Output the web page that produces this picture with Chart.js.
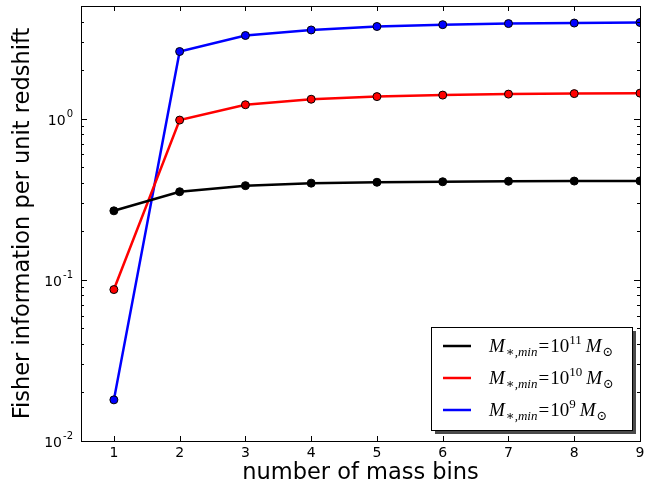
<!DOCTYPE html>
<html>
<head>
<meta charset="utf-8">
<script src="https://cdn.jsdelivr.net/npm/chart.js@4.4.0/dist/chart.umd.min.js"></script>
<style>
html, body { margin: 0; padding: 0; background: #fff; }
#wrap { width: 645px; height: 487px; position: relative; }
</style>
</head>
<body>
<div id="wrap"><canvas id="chart"></canvas></div>
<script>
// donnees
const massBins = [1, 2, 3, 4, 5, 6, 7, 8, 9];
const fisherMin11 = [0.268, 0.352, 0.384, 0.398, 0.403, 0.406, 0.409, 0.410, 0.411];
const fisherMin10 = [0.087, 0.98, 1.22, 1.32, 1.37, 1.40, 1.42, 1.43, 1.44];
const fisherMin9 = [0.018, 2.61, 3.28, 3.55, 3.73, 3.83, 3.89, 3.92, 3.95];
const seriesExponents = ['11', '10', '9'];
const seriesColors = ['#000000', '#ff0000', '#0000ff'];
const xTicks = [1, 2, 3, 4, 5, 6, 7, 8, 9];
const yDecades = [0.01, 0.1, 1];
const yDecadeExponents = ['-2', '-1', '0'];

const Y_MIN = 0.01, Y_MAX = 5;
const TICK_FONT = '"DejaVu Sans", sans-serif';

function toPoints(values) {
    return massBins.map((m, i) => ({ x: m, y: values[i] }));
}

function makeDataset(values, idx) {
    return {
        label: seriesExponents[idx],
        data: toPoints(values),
        borderColor: seriesColors[idx],
        backgroundColor: seriesColors[idx],
        pointBackgroundColor: seriesColors[idx],
        pointBorderColor: '#000',
        pointBorderWidth: 1,
        pointRadius: 4,
        borderWidth: 2.5,
        tension: 0,
        fill: false
    };
}

// graduations du log : 1..9 par decade
function buildLogTicks() {
    const ticks = [];
    yDecades.forEach(d => {
        for (let k = 1; k <= 9; k++) {
            const v = +(k * d).toPrecision(3);
            if (v <= Y_MAX) ticks.push({ value: v, major: k === 1 });
        }
    });
    return ticks;
}

// texte "mathematique" de la legende
function drawRich(ctx, x, y, segs) {
    let cx = x;
    segs.forEach(s => {
        ctx.font = (s.italic ? 'italic ' : '') + s.size + 'px "Liberation Serif", "DejaVu Serif", serif';
        ctx.fillText(s.t, cx, y + (s.dy || 0));
        cx += ctx.measureText(s.t).width + (s.gap || 0);
    });
}

const framePlugin = {
    id: 'frame',
    afterDatasetsDraw(chart) {
        const ctx = chart.ctx;
        const a = chart.chartArea;
        const xs = chart.scales.x, ys = chart.scales.y;
        ctx.save();
        ctx.strokeStyle = '#000';
        ctx.lineWidth = 1;
        ctx.beginPath();
        // ticks x haut et bas
        xTicks.forEach(v => {
            const px = Math.round(xs.getPixelForValue(v)) + 0.5;
            ctx.moveTo(px, a.bottom); ctx.lineTo(px, a.bottom - 5);
            ctx.moveTo(px, a.top); ctx.lineTo(px, a.top + 5);
        });
        // ticks y gauche et droite
        buildLogTicks().forEach(t => {
            const py = Math.round(ys.getPixelForValue(t.value)) + 0.5;
            const len = t.major ? 6 : 3;
            ctx.moveTo(a.left, py); ctx.lineTo(a.left + len, py);
            ctx.moveTo(a.right, py); ctx.lineTo(a.right - len, py);
        });
        ctx.stroke();
        ctx.strokeRect(Math.round(a.left) + 0.5, Math.round(a.top) + 0.5,
            Math.round(a.right - a.left), Math.round(a.bottom - a.top));

        // etiquettes des graduations
        ctx.fillStyle = '#000';
        ctx.textBaseline = 'alphabetic';
        ctx.textAlign = 'center';
        ctx.font = '14px ' + TICK_FONT;
        xTicks.forEach(v => {
            ctx.fillText(String(v), xs.getPixelForValue(v), 457);
        });
        ctx.textAlign = 'left';
        yDecades.forEach((d, i) => {
            const py = ys.getPixelForValue(d);
            ctx.font = '10px ' + TICK_FONT;
            const supW = ctx.measureText(yDecadeExponents[i]).width;
            ctx.font = '14px ' + TICK_FONT;
            const baseW = ctx.measureText('10').width;
            const x0 = 72 - supW - baseW;
            ctx.fillText('10', x0, py + 6);
            ctx.font = '10px ' + TICK_FONT;
            ctx.fillText(yDecadeExponents[i], x0 + baseW + 1, py - 2);
        });
        ctx.restore();
    },
    afterDraw(chart) {
        const ctx = chart.ctx;
        const a = chart.chartArea;
        ctx.save();
        // titres des axes
        ctx.fillStyle = '#000';
        ctx.font = '22.5px "DejaVu Sans", sans-serif';
        ctx.textAlign = 'center';
        ctx.textBaseline = 'middle';
        ctx.fillText('number of mass bins', (a.left + a.right) / 2, 473);
        ctx.translate(23, (a.top + a.bottom) / 2);
        ctx.rotate(-Math.PI / 2);
        ctx.fillText('Fisher information per unit redshift', 0, 0);
        ctx.restore();

        // legende
        ctx.save();
        const bx = 431, by = 327, bw = 201, bh = 103;
        ctx.fillStyle = '#4a4a4a';
        ctx.fillRect(bx + 4, by + 4, bw, bh);
        ctx.fillStyle = '#fff';
        ctx.fillRect(bx, by, bw, bh);
        ctx.strokeStyle = '#000';
        ctx.lineWidth = 1;
        ctx.strokeRect(bx + 0.5, by + 0.5, bw, bh);
        ctx.textAlign = 'left';
        ctx.textBaseline = 'alphabetic';
        seriesExponents.forEach((exp, i) => {
            const cy = 346 + i * 32;
            ctx.strokeStyle = seriesColors[i];
            ctx.lineWidth = 2.5;
            ctx.beginPath();
            ctx.moveTo(443, cy); ctx.lineTo(471, cy);
            ctx.stroke();
            ctx.fillStyle = '#000';
            drawRich(ctx, 489, cy + 6, [
                { t: 'M', size: 19, italic: true, gap: 1 },
                { t: '\u2217,min', size: 13, italic: true, dy: 4, gap: 1 },
                { t: '=', size: 19, gap: 1 },
                { t: '10', size: 19 },
                { t: exp, size: 13, dy: -8, gap: 4 },
                { t: 'M', size: 19, italic: true, gap: 1 },
                { t: '\u2299', size: 13, dy: 4 }
            ]);
        });
        ctx.restore();
    }
};

const ctx = document.getElementById('chart').getContext('2d');
new Chart(ctx, {
    type: 'line',
    data: {
        datasets: [
            makeDataset(fisherMin11, 0),
            makeDataset(fisherMin10, 1),
            makeDataset(fisherMin9, 2)
        ]
    },
    options: {
        responsive: true,
        maintainAspectRatio: false,
        animation: false,
        layout: { padding: { top: 6, right: 2, left: 0, bottom: 0 } },
        plugins: {
            legend: { display: false },
            tooltip: { enabled: false }
        },
        scales: {
            x: {
                type: 'linear',
                min: 0.5,
                max: 9,
                afterBuildTicks: scale => {
                    scale.ticks = xTicks.map(v => ({ value: v }));
                },
                ticks: { display: false },
                grid: { display: false },
                border: { display: false },
                afterFit: scale => {
                    scale.height = 46;
                    scale.paddingLeft = 0;
                    scale.paddingRight = 0;
                }
            },
            y: {
                type: 'logarithmic',
                min: Y_MIN,
                max: Y_MAX,
                afterBuildTicks: scale => {
                    scale.ticks = buildLogTicks();
                },
                ticks: { display: false },
                grid: { display: false },
                border: { display: false },
                afterFit: scale => {
                    scale.width = 81;
                    scale.paddingTop = 0;
                    scale.paddingBottom = 0;
                }
            }
        }
    },
    plugins: [framePlugin]
});
</script>
</body>
</html>
